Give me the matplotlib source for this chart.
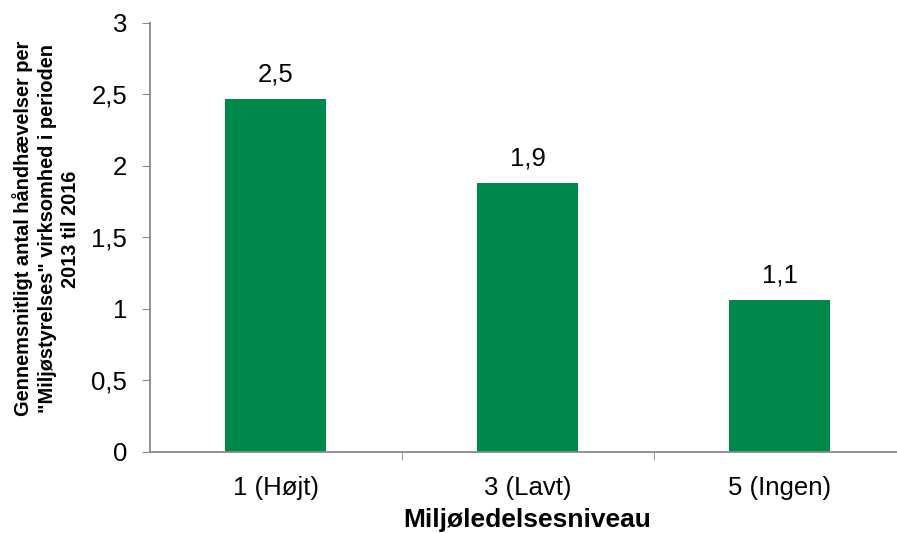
import matplotlib
matplotlib.use('Agg')
import matplotlib.pyplot as plt

# Data
categories = ['1 (Højt)', '3 (Lavt)', '5 (Ingen)']
values = [2.466, 1.88, 1.063]
value_labels = ['2,5', '1,9', '1,1']
y_ticks = [0, 0.5, 1, 1.5, 2, 2.5, 3]
y_tick_labels = ['0', '0,5', '1', '1,5', '2', '2,5', '3']

plt.rcParams['font.family'] = ['Liberation Sans', 'DejaVu Sans']

fig = plt.figure(figsize=(8.97, 5.33), dpi=100)
ax = fig.add_axes([0.1667, 0.152, 0.8428, 0.805])

bar_color = '#00874A'
axis_color = '#898989'

x = range(len(categories))
bars = ax.bar(x, values, width=0.4, color=bar_color, zorder=2)

for bar_item, lab in zip(bars, value_labels):
    ax.annotate(lab, (bar_item.get_x() + bar_item.get_width() / 2, bar_item.get_height()),
                xytext=(0, 9), textcoords='offset points',
                ha='center', va='bottom', fontsize=18.5)

ax.set_xlim(-0.5, 2.5)
ax.set_ylim(0, 3)
ax.set_yticks(y_ticks)
ax.set_yticklabels(y_tick_labels, fontsize=18.5)

ax.set_xticks(list(x))
ax.set_xticklabels(categories, fontsize=18.5)
ax.tick_params(axis='x', length=0, pad=17)
ax.set_xticks([0.5, 1.5], minor=True)
ax.tick_params(axis='x', which='minor', length=6, color=axis_color, direction='out')
ax.tick_params(axis='y', length=6, color=axis_color, direction='out', pad=10)

for side in ['top', 'right']:
    ax.spines[side].set_visible(False)
for side in ['left', 'bottom']:
    ax.spines[side].set_color(axis_color)
    ax.spines[side].set_linewidth(1.3)

ax.set_xlabel('Miljøledelsesniveau', fontsize=19, fontweight='bold', labelpad=6)
ax.set_ylabel('Gennemsnitligt antal håndhævelser per\n"Miljøstyrelses" virksomhed i perioden\n2013 til 2016',
              fontsize=14.4, fontweight='bold', linespacing=1.3, labelpad=8)
ax.yaxis.label.set_y(0.52)

fig.savefig('out.png', dpi=100)
